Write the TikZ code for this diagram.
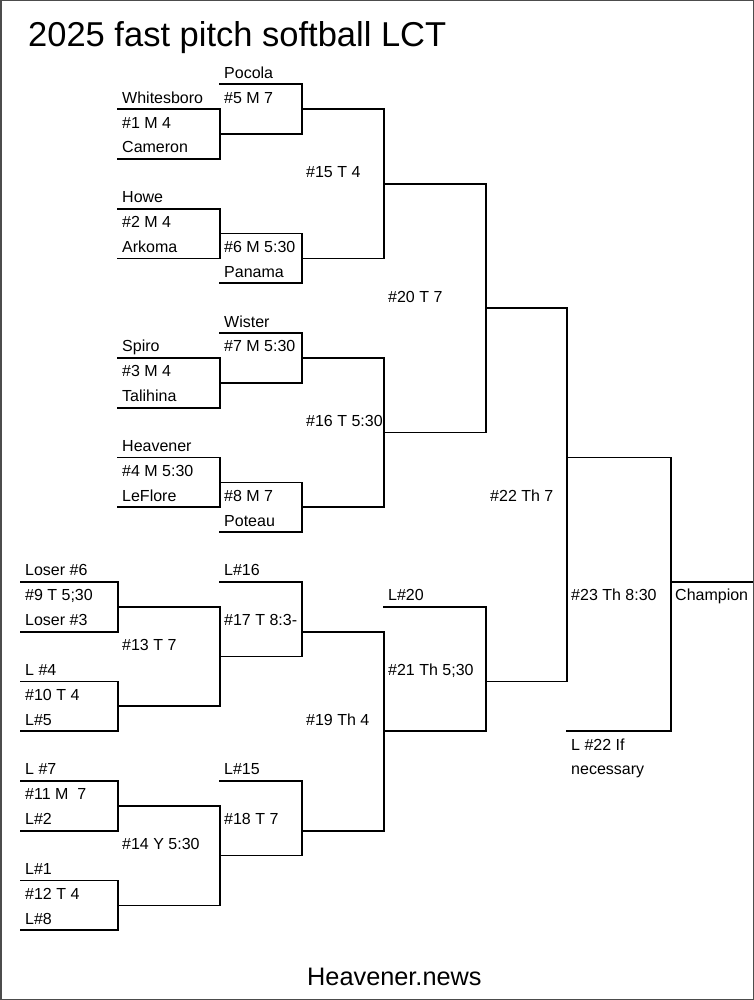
\documentclass[tikz,border=0pt]{standalone}
\usepackage{fontspec}
\setmainfont{Liberation Sans}
\newcommand\ry[1]{(84.3+24.88*(#1))}
\newcommand\cA{21}
\newcommand\cB{118}
\newcommand\cC{220}
\newcommand\cD{302}
\newcommand\cE{384}
\newcommand\cF{486}
\newcommand\cG{567}
\newcommand\cH{671}
\newcommand\cI{752.5}
\newcommand\brk[6]{%
  \draw[bline] (#1,{\ry{#3}}) -- (#2,{\ry{#3}}) -- (#2,{\ry{#4}}) -- (#1,{\ry{#4}});
  \draw[bline] (#2,{\ry{#5}}) -- (#6,{\ry{#5}});}
\newcommand\lbl[4]{\node[lab] (#1) at ({#2+4},{\ry{#3}-6}) {#4};}
\begin{document}
\begin{tikzpicture}[x=1pt,y=-1pt,
  bline/.style={line width=1.7pt,black,line cap=rect},
  lab/.style={anchor=base west,inner sep=0pt,font=\fontsize{16}{19}\selectfont},
  frame/.style={draw=black!70,line width=1.4pt}]
\useasboundingbox (0,0) rectangle (754,1000);
\fill[white] (0,0) rectangle (754,1000);
\draw[frame] (0.8,0.8) rectangle (753.2,999.2);
% title and footer
\node[anchor=base west,inner sep=0pt,font=\fontsize{34.5}{40}\selectfont] (title) at (28,46.3) {2025 fast pitch softball LCT};
\node[anchor=base west,inner sep=0pt,font=\fontsize{25.3}{30}\selectfont] (footer) at (307,985.7) {Heavener.news};
% winners bracket
\brk{\cB}{\cC}{1}{3}{2}{\cD}
\brk{\cC}{\cD}{0}{2}{1}{\cE}
\brk{\cB}{\cC}{5}{7}{6}{\cD}
\brk{\cC}{\cD}{6}{8}{7}{\cE}
\brk{\cD}{\cE}{1}{7}{4}{\cF}
\brk{\cB}{\cC}{11}{13}{12}{\cD}
\brk{\cC}{\cD}{10}{12}{11}{\cE}
\brk{\cB}{\cC}{15}{17}{16}{\cD}
\brk{\cC}{\cD}{16}{18}{17}{\cE}
\brk{\cD}{\cE}{11}{17}{14}{\cF}
\brk{\cE}{\cF}{4}{14}{9}{\cG}
\brk{\cF}{\cG}{9}{24}{15}{\cH}
\brk{\cG}{\cH}{15}{26}{20}{\cI}
% losers bracket
\brk{\cA}{\cB}{20}{22}{21}{\cC}
\brk{\cA}{\cB}{24}{26}{25}{\cC}
\brk{\cB}{\cC}{21}{25}{23}{\cD}
\brk{\cC}{\cD}{20}{23}{22}{\cE}
\brk{\cA}{\cB}{28}{30}{29}{\cC}
\brk{\cA}{\cB}{32}{34}{33}{\cC}
\brk{\cB}{\cC}{29}{33}{31}{\cD}
\brk{\cC}{\cD}{28}{31}{30}{\cE}
\brk{\cD}{\cE}{22}{30}{26}{\cF}
\brk{\cE}{\cF}{21}{26}{24}{\cG}
% labels
\lbl{pocola}{\cC}{0}{Pocola}
\lbl{whites}{\cB}{1}{Whitesboro}
\lbl{g5}{\cC}{1}{\#5 M 7}
\lbl{g1}{\cB}{2}{\#1 M 4}
\lbl{cameron}{\cB}{3}{Cameron}
\lbl{g15}{\cD}{4}{\#15 T 4}
\lbl{howe}{\cB}{5}{Howe}
\lbl{g2}{\cB}{6}{\#2 M 4}
\lbl{arkoma}{\cB}{7}{Arkoma}
\lbl{g6}{\cC}{7}{\#6 M 5:30}
\lbl{panama}{\cC}{8}{Panama}
\lbl{g20}{\cE}{9}{\#20 T 7}
\lbl{wister}{\cC}{10}{Wister}
\lbl{spiro}{\cB}{11}{Spiro}
\lbl{g7}{\cC}{11}{\#7 M 5:30}
\lbl{g3}{\cB}{12}{\#3 M 4}
\lbl{talihina}{\cB}{13}{Talihina}
\lbl{g16}{\cD}{14}{\#16 T 5:30}
\lbl{heavener}{\cB}{15}{Heavener}
\lbl{g4}{\cB}{16}{\#4 M 5:30}
\lbl{leflore}{\cB}{17}{LeFlore}
\lbl{g8}{\cC}{17}{\#8 M 7}
\lbl{poteau}{\cC}{18}{Poteau}
\lbl{g22}{\cF}{17}{\#22 Th 7}
\lbl{l6}{\cA}{20}{Loser \#6}
\lbl{l16}{\cC}{20}{L\#16}
\lbl{g9}{\cA}{21}{\#9 T 5;30}
\lbl{l20}{\cE}{21}{L\#20}
\lbl{g23}{\cG}{21}{\#23 Th 8:30}
\lbl{champ}{\cH}{21}{Champion}
\lbl{l3}{\cA}{22}{Loser \#3}
\lbl{g17}{\cC}{22}{\#17 T 8:3-}
\lbl{g13}{\cB}{23}{\#13 T 7}
\lbl{g21}{\cE}{24}{\#21 Th 5;30}
\lbl{l4}{\cA}{24}{L \#4}
\lbl{g10}{\cA}{25}{\#10 T 4}
\lbl{l5}{\cA}{26}{L\#5}
\lbl{g19}{\cD}{26}{\#19 Th 4}
\lbl{l22}{\cG}{27}{L \#22 If}
\lbl{necess}{\cG}{28}{necessary}
\lbl{l7}{\cA}{28}{L \#7}
\lbl{l15}{\cC}{28}{L\#15}
\lbl{g11}{\cA}{29}{\#11 M\ \ 7}
\lbl{l2}{\cA}{30}{L\#2}
\lbl{g18}{\cC}{30}{\#18 T 7}
\lbl{g14}{\cB}{31}{\#14 Y 5:30}
\lbl{l1}{\cA}{32}{L\#1}
\lbl{g12}{\cA}{33}{\#12 T 4}
\lbl{l8}{\cA}{34}{L\#8}
\end{tikzpicture}
\end{document}
